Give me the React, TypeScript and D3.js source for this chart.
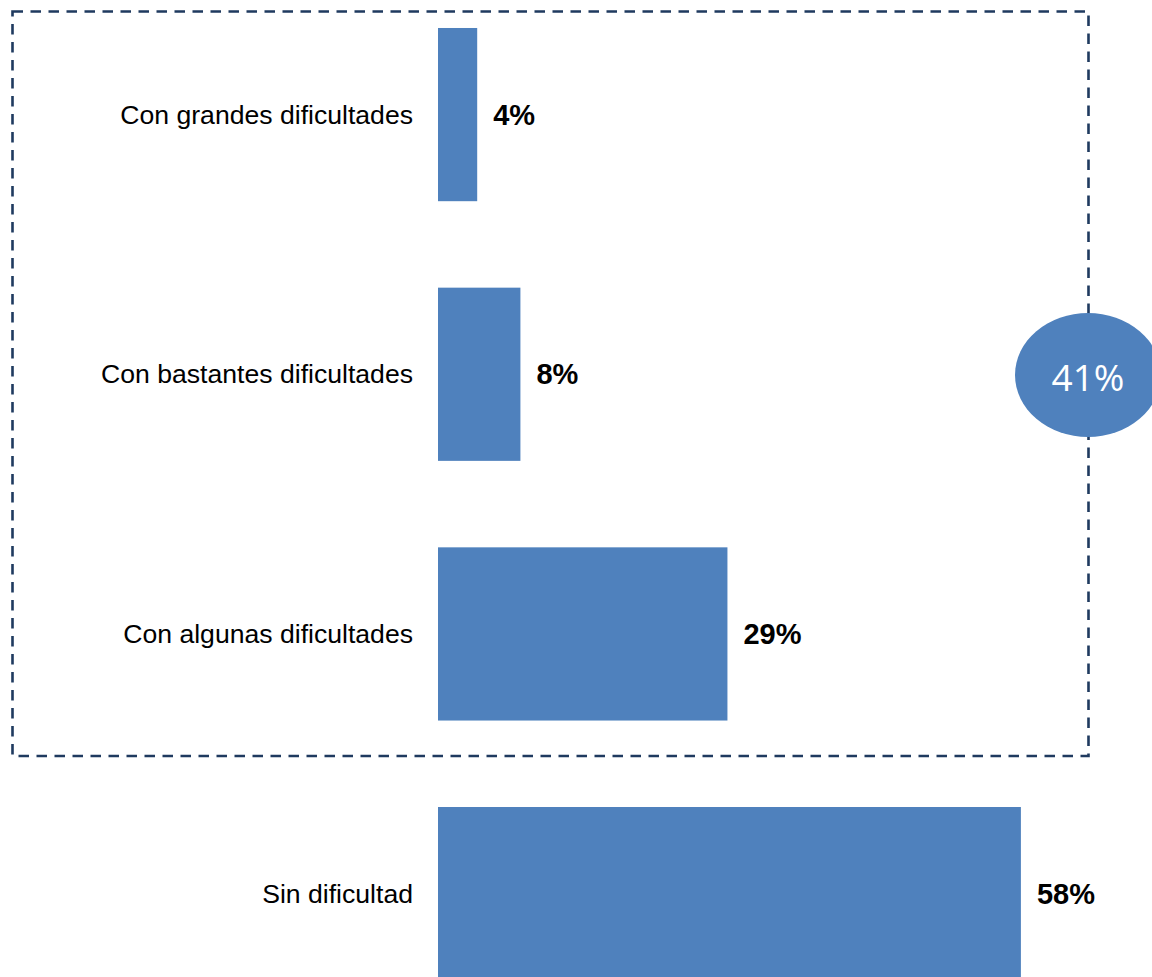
import React from "react";
import * as d3 from "d3";

const categories = [
  "Con grandes dificultades",
  "Con bastantes dificultades",
  "Con algunas dificultades",
  "Sin dificultad",
];
const values = [0.039, 0.082, 0.288, 0.58];
const valueLabels = ["4%", "8%", "29%", "58%"];
const groupLabel = "41%";

const W = 1152;
const H = 977;

export default function App() {
  const x = d3.scaleLinear().domain([0, 0.6]).range([438, 1041]);
  const y = d3
    .scaleBand<string>()
    .domain(categories)
    .range([-15.3, 1023.5])
    .paddingInner(0.333)
    .paddingOuter(0.1667);
  const bw = y.bandwidth();

  return (
    <svg
      width={W}
      height={H}
      style={{ position: "absolute", left: 0, top: 0, display: "block", background: "#fff" }}
    >
      <rect x={0} y={0} width={W} height={H} fill="#fff" />
      {categories.map((c, i) => {
        const yy = y(c)!;
        const cy = yy + bw / 2;
        return (
          <g key={c}>
            <rect x={x(0)} y={yy} width={x(values[i]) - x(0)} height={bw} fill="#4F81BD" />
            <text
              x={x(0) - 25}
              y={cy}
              textAnchor="end"
              dominantBaseline="central"
              fontFamily="'Liberation Sans', Arial, sans-serif"
              fontSize={26.6}
              fill="#000"
            >
              {c}
            </text>
            <text
              x={x(values[i]) + 16}
              y={cy}
              textAnchor="start"
              dominantBaseline="central"
              fontFamily="'Liberation Sans', Arial, sans-serif"
              fontWeight="bold"
              fontSize={29}
              fill="#000"
            >
              {valueLabels[i]}
            </text>
          </g>
        );
      })}
      <rect
        x={12.5}
        y={11.5}
        width={1076}
        height={744.5}
        fill="none"
        stroke="#1F3A5F"
        strokeWidth={2.6}
        strokeDasharray="10.5 7.5"
      />
      <ellipse cx={1088} cy={375} rx={73} ry={62} fill="#4F81BD" />
      <text
        x={1088}
        y={376}
        textAnchor="middle"
        dominantBaseline="central"
        fontFamily="'Open Sans', sans-serif"
        fontSize={37}
        fill="#fff"
      >
        {groupLabel}
      </text>
    </svg>
  );
}
